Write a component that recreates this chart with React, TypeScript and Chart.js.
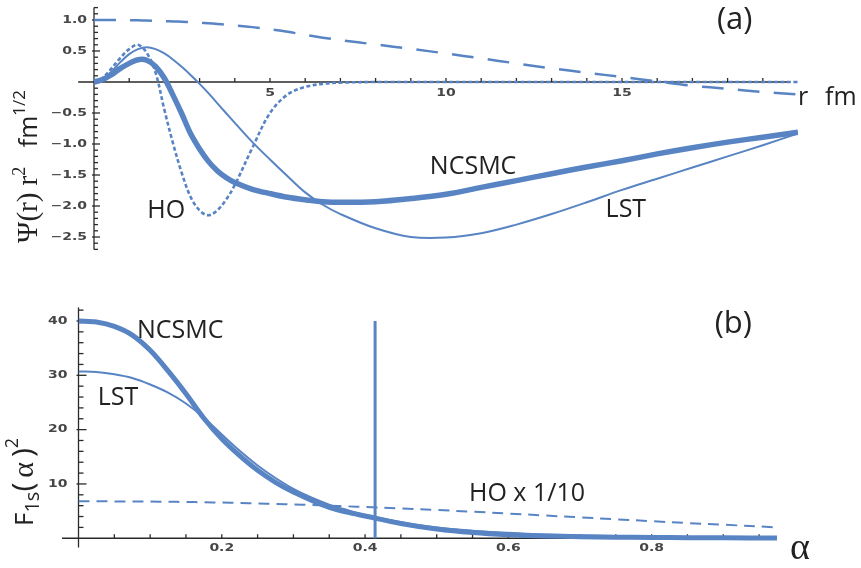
import React, { useEffect, useRef } from "react";
import { Chart, registerables } from "chart.js";

Chart.register(...registerables);

const BLUE = "#5884c4";
const INK = "#222222";
const AXIS = "#2a2a2a";
const TICK_TEXT = "#464646";

// ---------- Panel (a): Psi(r) r^2 vs r ----------
const rValues = [0, 0.25, 0.5, 0.75, 1, 1.25, 1.5, 1.75, 2, 2.25, 2.5, 2.75, 3, 3.25, 3.5, 3.75, 4, 4.5, 5, 5.5, 6, 6.5, 7, 8, 9, 10, 11, 12, 13, 14, 15, 16, 17, 18, 19, 20];
const psiNCSMC = [0, 0.04, 0.12, 0.22, 0.3, 0.36, 0.35, 0.25, 0.06, -0.22, -0.52, -0.84, -1.08, -1.28, -1.43, -1.54, -1.62, -1.73, -1.8, -1.86, -1.9, -1.93, -1.94, -1.93, -1.88, -1.81, -1.7, -1.59, -1.48, -1.37, -1.27, -1.16, -1.06, -0.97, -0.89, -0.81];
const psiLST = [0, 0.05, 0.17, 0.32, 0.45, 0.53, 0.56, 0.53, 0.46, 0.36, 0.24, 0.11, -0.03, -0.18, -0.34, -0.5, -0.66, -0.97, -1.25, -1.52, -1.78, -1.98, -2.13, -2.36, -2.5, -2.51, -2.44, -2.3, -2.13, -1.94, -1.74, -1.56, -1.38, -1.2, -1.02, -0.83];
const psiHO = [0, 0.07, 0.22, 0.39, 0.53, 0.6, 0.47, 0.15, -0.45, -1.0, -1.48, -1.86, -2.07, -2.15, -2.07, -1.9, -1.66, -1.06, -0.5, -0.2, -0.08, -0.03, -0.01, 0, 0, 0, 0, 0, 0, 0, 0, 0, 0, 0, 0, 0];
const psiLongDash = [1.0, 1.0, 0.999, 0.998, 0.996, 0.994, 0.991, 0.987, 0.982, 0.977, 0.971, 0.964, 0.956, 0.947, 0.937, 0.926, 0.914, 0.885, 0.85, 0.81, 0.76, 0.715, 0.675, 0.605, 0.535, 0.46, 0.38, 0.3, 0.22, 0.15, 0.08, 0.01, -0.06, -0.11, -0.16, -0.2];
const rTickValues = [5, 10, 15];
const rTickLabels = ["5", "10", "15"];
const psiTickValues = [1.0, 0.5, -0.5, -1.0, -1.5, -2.0, -2.5];
const psiTickLabels = ["1.0", "0.5", "\u22120.5", "\u22121.0", "\u22121.5", "\u22122.0", "\u22122.5"];

// ---------- Panel (b): F_1s(alpha)^2 vs alpha ----------
const alphaValues = [0, 0.025, 0.05, 0.075, 0.1, 0.125, 0.15, 0.175, 0.2, 0.225, 0.25, 0.275, 0.3, 0.325, 0.35, 0.375, 0.4, 0.45, 0.5, 0.55, 0.6, 0.65, 0.7, 0.75, 0.8, 0.85, 0.9, 0.975];
const f2NCSMC = [40, 39.8, 39.0, 37.4, 34.6, 30.8, 26.6, 22.1, 18.3, 15.2, 12.5, 10.3, 8.5, 7.0, 5.7, 4.8, 4.1, 2.7, 1.7, 1.05, 0.65, 0.42, 0.3, 0.2, 0.15, 0.1, 0.08, 0.05];
const f2LST = [30.7, 30.6, 30.2, 29.5, 28.3, 26.8, 24.8, 22.2, 19.1, 16.1, 13.4, 11.1, 9.1, 7.5, 6.2, 5.2, 4.3, 3.0, 2.0, 1.4, 1.0, 0.7, 0.5, 0.4, 0.3, 0.25, 0.2, 0.15];
const f2HOScaled = [6.8, 6.8, 6.79, 6.78, 6.75, 6.72, 6.68, 6.63, 6.57, 6.5, 6.42, 6.33, 6.23, 6.12, 6.0, 5.88, 5.75, 5.5, 5.2, 4.9, 4.55, 4.2, 3.85, 3.5, 3.15, 2.8, 2.5, 2.0];
const cutoffAlpha = [0.414, 0.414];
const cutoffF2 = [0, 40];
const alphaTickValues = [0.2, 0.4, 0.6, 0.8];
const alphaTickLabels = ["0.2", "0.4", "0.6", "0.8"];
const f2TickValues = [10, 20, 30, 40];
const f2TickLabels = ["10", "20", "30", "40"];

const toXY = (xs: number[], ys: number[]) => xs.map((x, i) => ({ x, y: ys[i] }));

function seg(ctx: CanvasRenderingContext2D, x1: number, y1: number, x2: number, y2: number) {
  ctx.beginPath();
  ctx.moveTo(x1, y1);
  ctx.lineTo(x2, y2);
  ctx.stroke();
}

function tickText(ctx: CanvasRenderingContext2D, text: string, x: number, y: number, align: CanvasTextAlign) {
  ctx.save();
  ctx.translate(x, y);
  ctx.scale(1.4, 1);
  ctx.font = "bold 10px 'DejaVu Sans'";
  ctx.fillStyle = TICK_TEXT;
  ctx.textAlign = align;
  ctx.textBaseline = "middle";
  ctx.fillText(text, 0, 0);
  ctx.restore();
}

type Piece = { t: string; font: string; dy?: number };
function rotatedPieces(ctx: CanvasRenderingContext2D, pieces: Piece[], x: number, y: number) {
  ctx.save();
  ctx.translate(x, y);
  ctx.rotate(-Math.PI / 2);
  ctx.fillStyle = INK;
  ctx.textAlign = "left";
  ctx.textBaseline = "alphabetic";
  let cx = 0;
  for (const p of pieces) {
    ctx.font = p.font;
    ctx.fillText(p.t, cx, p.dy || 0);
    cx += ctx.measureText(p.t).width;
  }
  ctx.restore();
}

function text(ctx: CanvasRenderingContext2D, t: string, x: number, y: number, font: string, align: CanvasTextAlign = "center", baseline: CanvasTextBaseline = "middle") {
  ctx.save();
  ctx.font = font;
  ctx.fillStyle = INK;
  ctx.textAlign = align;
  ctx.textBaseline = baseline;
  ctx.fillText(t, x, y);
  ctx.restore();
}

const LABEL_FONT = "25px 'Open Sans'";
const PANEL_FONT = "31px 'Open Sans'";

const panelAPlugin = {
  id: "panelA",
  beforeDatasetsDraw(chart: any) {
    const ctx: CanvasRenderingContext2D = chart.ctx;
    const X = (v: number) => chart.scales.x.getPixelForValue(v);
    const Y = (v: number) => chart.scales.y.getPixelForValue(v);
    ctx.save();
    ctx.strokeStyle = AXIS;
    ctx.lineWidth = 1.3;
    const y0 = Y(0);
    const x0 = X(0);
    seg(ctx, X(-0.45), y0, X(19.7), y0);
    for (let r = 1; r <= 19; r++) seg(ctx, X(r), y0, X(r), y0 - 4);
    seg(ctx, x0, Y(1.2), x0, Y(-2.7));
    for (let k = -27; k <= 12; k++) {
      if (k === 0) continue;
      const major = k % 5 === 0;
      seg(ctx, x0 - (major ? 2 : 0), Y(k / 10), x0 + (major ? 6 : 4), Y(k / 10));
    }
    rTickValues.forEach((v, i) => tickText(ctx, rTickLabels[i], X(v), y0 + 11.5, "center"));
    psiTickValues.forEach((v, i) => tickText(ctx, psiTickLabels[i], x0 - 7, Y(v), "right"));
    ctx.restore();
  },
  afterDraw(chart: any) {
    const ctx: CanvasRenderingContext2D = chart.ctx;
    const X = (v: number) => chart.scales.x.getPixelForValue(v);
    const Y = (v: number) => chart.scales.y.getPixelForValue(v);
    text(ctx, "HO", X(2.05), Y(-2.08), LABEL_FONT);
    text(ctx, "NCSMC", X(10.77), Y(-1.37), LABEL_FONT);
    text(ctx, "LST", X(15.11), Y(-2.06), LABEL_FONT);
    text(ctx, "(a)", X(18.2), Y(1.0), PANEL_FONT);
    text(ctx, "r", X(20.0), Y(-0.37), LABEL_FONT, "left", "alphabetic");
    text(ctx, "fm", X(20.77), Y(-0.37), LABEL_FONT, "left", "alphabetic");
    rotatedPieces(
      ctx,
      [
        { t: "\u03A8(r) r", font: "29px 'Liberation Serif'" },
        { t: "2", font: "18px 'Liberation Serif'", dy: -12 },
        { t: "   fm", font: "25px 'Open Sans'" },
        { t: "1/2", font: "17px 'Open Sans'", dy: -12 },
      ],
      37,
      243
    );
  },
};

const panelBPlugin = {
  id: "panelB",
  beforeDatasetsDraw(chart: any) {
    const ctx: CanvasRenderingContext2D = chart.ctx;
    const X = (v: number) => chart.scales.x.getPixelForValue(v);
    const Y = (v: number) => chart.scales.y.getPixelForValue(v);
    ctx.save();
    ctx.strokeStyle = AXIS;
    ctx.lineWidth = 1.3;
    const y0 = Y(0);
    const x0 = X(0);
    seg(ctx, X(-0.023), y0, X(0.975), y0);
    for (let k = 1; k <= 19; k++) seg(ctx, X(k * 0.05), y0, X(k * 0.05), y0 - 4);
    seg(ctx, x0, Y(42.5), x0, Y(-1.7));
    for (let k = 1; k <= 21; k++) {
      const major = k % 5 === 0;
      seg(ctx, x0 - (major ? 2 : 0), Y(k * 2), x0 + (major ? 8 : 5), Y(k * 2));
    }
    alphaTickValues.forEach((v, i) => tickText(ctx, alphaTickLabels[i], X(v), y0 + 10, "center"));
    f2TickValues.forEach((v, i) => tickText(ctx, f2TickLabels[i], x0 - 11, Y(v), "right"));
    ctx.restore();
  },
  afterDraw(chart: any) {
    const ctx: CanvasRenderingContext2D = chart.ctx;
    const X = (v: number) => chart.scales.x.getPixelForValue(v);
    const Y = (v: number) => chart.scales.y.getPixelForValue(v);
    text(ctx, "NCSMC", X(0.142), Y(38.2), LABEL_FONT);
    text(ctx, "LST", X(0.055), Y(25.8), LABEL_FONT);
    text(ctx, "HO x 1/10", X(0.626), Y(8.2), LABEL_FONT);
    text(ctx, "(b)", X(0.914), Y(39.4), PANEL_FONT);
    text(ctx, "\u03B1", X(1.007), Y(-2.0), "38px 'Liberation Serif'");
    rotatedPieces(
      ctx,
      [
        { t: "F", font: "26px 'Open Sans'" },
        { t: "1s", font: "20px 'Open Sans'", dy: 6 },
        { t: "(\u2009", font: "30px 'Open Sans'" },
        { t: "\u03B1", font: "30px 'Liberation Serif'" },
        { t: "\u2009)", font: "30px 'Open Sans'" },
        { t: "2", font: "18px 'Open Sans'", dy: -15 },
      ],
      33,
      241
    );
  },
};

function lineDs(data: { x: number; y: number }[], width: number, dash: number[] = [], smooth = true) {
  return {
    data,
    borderColor: BLUE,
    backgroundColor: BLUE,
    borderWidth: width,
    borderDash: dash,
    pointRadius: 0,
    fill: false,
    tension: smooth ? 0.35 : 0,
    cubicInterpolationMode: "default" as const,
  };
}

function baseOptions(padding: any, xmin: number, xmax: number, ymin: number, ymax: number) {
  return {
    responsive: false,
    maintainAspectRatio: false,
    animation: false as const,
    events: [] as any[],
    devicePixelRatio: 1,
    layout: { padding },
    plugins: { legend: { display: false }, tooltip: { enabled: false }, title: { display: false } },
    scales: {
      x: { type: "linear" as const, min: xmin, max: xmax, display: false },
      y: { type: "linear" as const, min: ymin, max: ymax, display: false },
    },
  };
}

export default function App() {
  const refA = useRef<HTMLCanvasElement>(null);
  const refB = useRef<HTMLCanvasElement>(null);

  useEffect(() => {
    const chartA = new Chart(refA.current as HTMLCanvasElement, {
      type: "line",
      data: {
        datasets: [
          lineDs(toXY(rValues, psiLongDash), 2.5, [22, 14]),
          lineDs(toXY(rValues, psiHO), 2.6, [4, 2.5]),
          lineDs(toXY(rValues, psiLST), 2),
          lineDs(toXY(rValues, psiNCSMC), 5.5),
        ] as any,
      },
      options: baseOptions({ left: 94, right: 63, top: 7.6, bottom: 35.6 }, 0, 20, -2.7, 1.2) as any,
      plugins: [panelAPlugin],
    });
    const chartB = new Chart(refB.current as HTMLCanvasElement, {
      type: "line",
      data: {
        datasets: [
          lineDs(toXY(alphaValues, f2HOScaled), 2, [11, 7]),
          lineDs(toXY(alphaValues, f2LST), 2),
          lineDs(toXY(alphaValues, f2NCSMC), 5),
          lineDs(toXY(cutoffAlpha, cutoffF2), 3, [], false),
        ] as any,
      },
      options: baseOptions({ left: 78.5, right: 84, top: 22.4, bottom: 20.5 }, 0, 0.975, -1.7, 42.5) as any,
      plugins: [panelBPlugin],
    });
    return () => {
      chartA.destroy();
      chartB.destroy();
    };
  }, []);

  return (
    <div style={{ position: "absolute", left: 0, top: 0, width: 861, height: 568, background: "#fff", overflow: "hidden" }}>
      <canvas ref={refA} width={861} height={285} style={{ position: "absolute", left: 0, top: 0, width: 861, height: 285 }} />
      <canvas ref={refB} width={861} height={283} style={{ position: "absolute", left: 0, top: 285, width: 861, height: 283 }} />
    </div>
  );
}
